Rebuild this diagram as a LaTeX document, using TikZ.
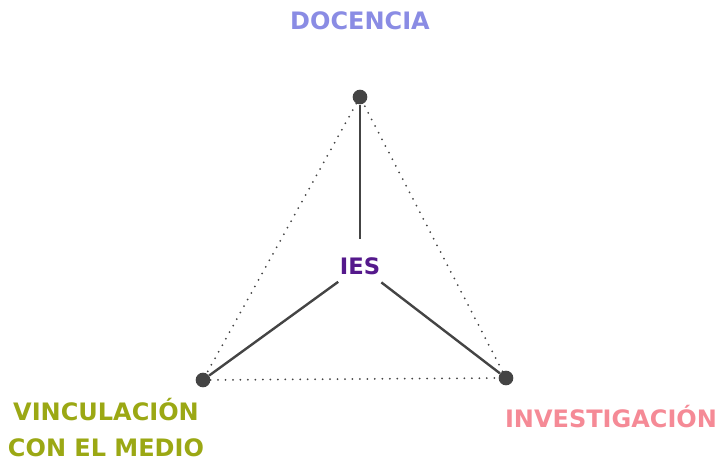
\documentclass[tikz,border=0pt]{standalone}
\usepackage{fontspec}
\setsansfont{DejaVu Sans}
\definecolor{docencia}{RGB}{138,140,228}
\definecolor{investig}{RGB}{245,138,150}
\definecolor{vincula}{RGB}{155,168,20}
\definecolor{iescol}{RGB}{85,25,140}
\definecolor{linegray}{RGB}{68,68,68}
\begin{document}
\begin{tikzpicture}[x=0.75pt, y=-0.75pt,
    vertex/.style={circle, fill=linegray, minimum size=11pt, inner sep=0pt},
    axis/.style={draw=linegray, line width=1.8pt},
    edge/.style={draw=linegray, line width=1.5pt, line cap=round, dash pattern=on 0pt off 5.6pt},
    label/.style={font=\sffamily\bfseries\fontsize{18}{27}\selectfont, align=center, inner sep=0pt}]
    \useasboundingbox (0,0) rectangle (721,460);
    \node[vertex] (doc) at (360,97) {};
    \node[vertex] (vin) at (203,380) {};
    \node[vertex] (inv) at (506,378) {};
    \node[label, text=iescol, font=\sffamily\bfseries\fontsize{17}{20}\selectfont, circle, minimum size=40pt] (ies) at (360,266) {IES};
    \draw[axis] (doc) -- (ies);
    \draw[axis] (vin) -- (ies);
    \draw[axis] (inv) -- (ies);
    \draw[edge] (doc) -- (vin) -- (inv) -- (doc);
    \node[label, text=docencia] (tdoc) at (360,21) {DOCENCIA};
    \node[label, text=vincula] (tvin) at (106,428) {VINCULACIÓN\\CON EL MEDIO};
    \node[label, text=investig] (tinv) at (611,417) {INVESTIGACIÓN};
\end{tikzpicture}
\end{document}
